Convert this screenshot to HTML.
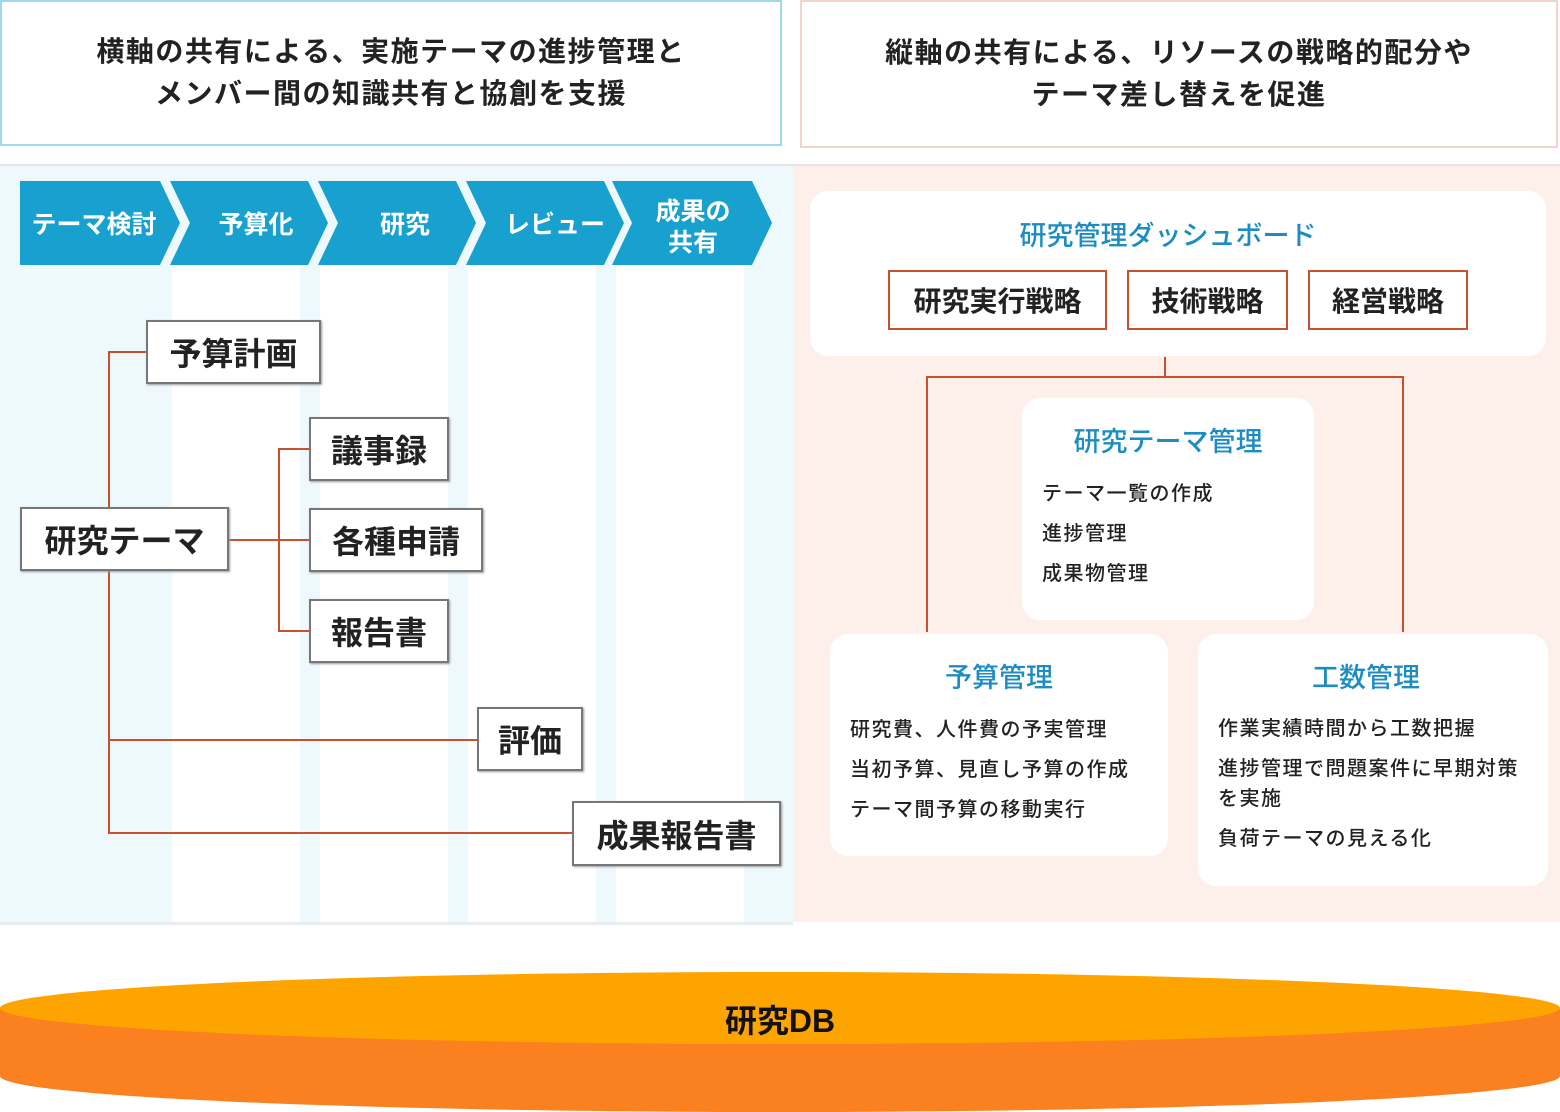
<!DOCTYPE html>
<html><head><meta charset="utf-8">
<style>
*{margin:0;padding:0;box-sizing:border-box}
body{width:1560px;height:1112px;position:relative;background:#fff;font-family:"Liberation Sans","Noto Sans CJK JP",sans-serif;overflow:hidden;color:#222}
.a{position:absolute}
.hd{display:flex;align-items:center;justify-content:center;text-align:center;font-size:28px;letter-spacing:1.5px;font-weight:bold;line-height:42px;background:#fff}
.nb{position:absolute;background:#fff;border:2px solid #777;display:flex;align-items:center;justify-content:center;font-weight:bold;font-size:32px;box-shadow:1px 1px 2px #999}
.rb{position:absolute;border:2px solid #c9502c;display:flex;align-items:center;justify-content:center;font-weight:bold;font-size:28px;background:#fff}
.card{position:absolute;background:#fff;border-radius:18px}
.ct{color:#1c8cc3;font-size:27px;text-align:center;font-weight:500}
.li{font-size:20px;letter-spacing:1.5px;line-height:40px;color:#222;font-weight:500}
</style></head><body>
<div class="a hd" style="left:0;top:0;width:782px;height:146px;border:2px solid #9fd8ec">横軸の共有による、実施テーマの進捗管理と<br>メンバー間の知識共有と協創を支援</div>
<div class="a hd" style="left:800px;top:0;width:758px;height:148px;border:2px solid #f2d4ca">縦軸の共有による、リソースの戦略的配分や<br>テーマ差し替えを促進</div>
<div class="a" style="left:0;top:164px;width:1560px;height:2px;background:#e6e6e6"></div>
<div class="a" style="left:0;top:166px;width:793px;height:756px;background:#eef9fe"></div>
<div class="a" style="left:172px;top:265px;width:128px;height:657px;background:#fff"></div>
<div class="a" style="left:320px;top:265px;width:128px;height:657px;background:#fff"></div>
<div class="a" style="left:468px;top:265px;width:128px;height:657px;background:#fff"></div>
<div class="a" style="left:616px;top:265px;width:128px;height:657px;background:#fff"></div>
<div class="a" style="left:793px;top:166px;width:767px;height:756px;background:#fdefea"></div>
<div class="a" style="left:0;top:922px;width:793px;height:3px;background:#e8eef0"></div>

<svg class="a" style="left:0;top:0" width="1560" height="1112">
<g fill="#18a0cf">
<polygon points="20,181 160,181 180,223 160,265 20,265"/>
<polygon points="170,181 308,181 328,223 308,265 170,265 190,223"/>
<polygon points="318,181 456,181 476,223 456,265 318,265 338,223"/>
<polygon points="466,181 604,181 624,223 604,265 466,265 486,223"/>
<polygon points="612,181 752,181 772,223 752,265 612,265 632,223"/>
</g>
<g fill="#fff" font-family="Liberation Sans,Noto Sans CJK JP,sans-serif" font-weight="bold" font-size="25" text-anchor="middle">
<text x="94" y="233">テーマ検討</text>
<text x="256" y="233">予算化</text>
<text x="405" y="233">研究</text>
<text x="555" y="233">レビュー</text>
<text x="693" y="220">成果の</text>
<text x="693" y="251">共有</text>
</g>
<g stroke="#c9502c" stroke-width="2" fill="none">
<polyline points="146,352 109,352 109,833 572,833"/>
<line x1="109" y1="740" x2="477" y2="740"/>
<line x1="229" y1="540" x2="309" y2="540"/>
<polyline points="309,449 279,449 279,631 309,631"/>
<line x1="1165" y1="357" x2="1165" y2="377"/>
<polyline points="927,632 927,377 1403,377 1403,632"/>
</g>
<ellipse cx="780" cy="1076" rx="780" ry="36" fill="#fb801f"/>
<rect x="0" y="1008" width="1560" height="68" fill="#fb801f"/>
<ellipse cx="780" cy="1008" rx="780" ry="36" fill="#fea400"/>
<text x="780" y="1032" text-anchor="middle" font-family="Liberation Sans,Noto Sans CJK JP,sans-serif" font-weight="bold" font-size="32" fill="#111">研究DB</text>
</svg>

<div class="nb" style="left:146px;top:320px;width:175px;height:64px">予算計画</div>
<div class="nb" style="left:20px;top:507px;width:209px;height:64px">研究テーマ</div>
<div class="nb" style="left:309px;top:417px;width:140px;height:64px">議事録</div>
<div class="nb" style="left:309px;top:508px;width:174px;height:64px">各種申請</div>
<div class="nb" style="left:309px;top:599px;width:140px;height:64px">報告書</div>
<div class="nb" style="left:477px;top:707px;width:106px;height:64px">評価</div>
<div class="nb" style="left:572px;top:801px;width:209px;height:65px">成果報告書</div>

<div class="card" style="left:810px;top:191px;width:736px;height:165px"></div>
<div class="a ct" style="left:800px;top:214px;width:736px">研究管理ダッシュボード</div>
<div class="rb" style="left:888px;top:270px;width:219px;height:60px">研究実行戦略</div>
<div class="rb" style="left:1127px;top:270px;width:161px;height:60px">技術戦略</div>
<div class="rb" style="left:1308px;top:270px;width:160px;height:60px">経営戦略</div>

<div class="card" style="left:1022px;top:398px;width:292px;height:222px"></div>
<div class="a ct" style="left:1022px;top:420px;width:292px">研究テーマ管理</div>
<div class="a li" style="left:1042px;top:474px">テーマ一覧の作成<br>進捗管理<br>成果物管理</div>

<div class="card" style="left:830px;top:634px;width:338px;height:222px"></div>
<div class="a ct" style="left:830px;top:656px;width:338px">予算管理</div>
<div class="a li" style="left:850px;top:710px">研究費、人件費の予実管理<br>当初予算、見直し予算の作成<br>テーマ間予算の移動実行</div>

<div class="card" style="left:1198px;top:634px;width:350px;height:252px"></div>
<div class="a ct" style="left:1198px;top:656px;width:336px">工数管理</div>
<div class="a li" style="left:1218px;top:714px;line-height:30px">作業実績時間から工数把握<br><span style="display:block;height:10px"></span>進捗管理で問題案件に早期対策<br>を実施<br><span style="display:block;height:10px"></span>負荷テーマの見える化</div>
</body></html>
